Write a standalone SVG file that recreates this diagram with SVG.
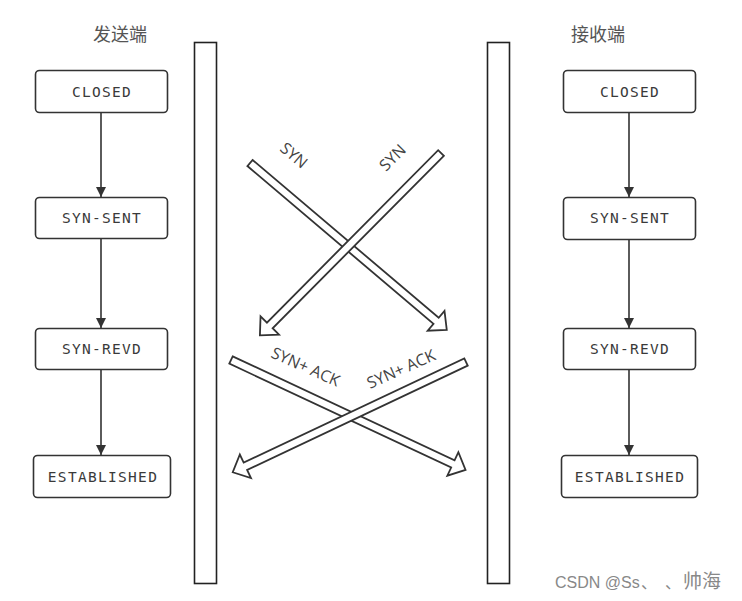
<svg xmlns="http://www.w3.org/2000/svg" width="742" height="601" viewBox="0 0 742 601">
<style>
.box{fill:#fff;stroke:#333;stroke-width:1.6}
.lbl{font-family:"DejaVu Sans Mono","Liberation Mono",monospace;font-size:14.5px;letter-spacing:1.3px;fill:#3a3a3a;text-anchor:middle}
.bar{fill:#fff;stroke:#222;stroke-width:1.6}
.title{font-family:"Noto Sans CJK SC",sans-serif;font-size:18px;fill:#555;text-anchor:middle}
.msg{font-family:"Open Sans","Liberation Sans",sans-serif;font-size:16px;fill:#444}
.edge{stroke:#333;stroke-width:1.6;fill:none}
.hollow{fill:#fff;stroke:#333;stroke-width:1.8;stroke-linejoin:miter}
</style>
<defs>
<marker id="ah" viewBox="0 0 10 10" refX="10" refY="5" markerWidth="10" markerHeight="10" markerUnits="userSpaceOnUse" orient="auto">
<path d="M0,0 L10,5 L0,10 z" fill="#333"/>
</marker>
</defs>
<rect width="742" height="601" fill="#fff"/>
<text class="title" x="120" y="41">发送端</text>
<text class="title" x="598" y="41">接收端</text>
<rect class="bar" x="194.5" y="42.5" width="22" height="541"/>
<rect class="bar" x="487.5" y="42.5" width="22" height="541"/>
<g id="connectors">
<line class="edge" x1="101" y1="112" x2="101" y2="197" marker-end="url(#ah)"/>
<line class="edge" x1="101" y1="238" x2="101" y2="328" marker-end="url(#ah)"/>
<line class="edge" x1="101" y1="369" x2="101" y2="455" marker-end="url(#ah)"/>
<line class="edge" x1="629" y1="112" x2="629" y2="197" marker-end="url(#ah)"/>
<line class="edge" x1="629" y1="239" x2="629" y2="328" marker-end="url(#ah)"/>
<line class="edge" x1="629" y1="369" x2="629" y2="455" marker-end="url(#ah)"/>
<g id="syn1" transform="translate(250,163) rotate(40.3)"><polygon class="hollow" points="0,-4 244,-4 244,-13 258,0 244,13 244,4 0,4"/></g>
<g id="syn2" transform="translate(441,153) rotate(134.8)"><polygon class="hollow" points="0,-4 243,-4 243,-13 257,0 243,13 243,4 0,4"/></g>
<g id="synack1" transform="translate(231,360) rotate(25.1)"><polygon class="hollow" points="0,-4 245,-4 245,-13 259,0 245,13 245,4 0,4"/></g>
<g id="synack2" transform="translate(466,362) rotate(154.7)"><polygon class="hollow" points="0,-4 244,-4 244,-13 258,0 244,13 244,4 0,4"/></g>
<text class="msg" transform="translate(279,150) rotate(40)">SYN</text>
<text class="msg" transform="translate(386,172) rotate(-45)">SYN</text>
<text class="msg" transform="translate(270,357) rotate(24)">SYN+ ACK</text>
<text class="msg" transform="translate(370,389) rotate(-24)">SYN+ ACK</text>
</g>
<g id="s-closed"><rect class="box" x="35.5" y="70.5" width="132" height="42" rx="4"/><text class="lbl" x="102" y="97">CLOSED</text></g>
<g id="s-synsent"><rect class="box" x="35.5" y="197.5" width="132" height="41" rx="4"/><text class="lbl" x="102" y="223">SYN-SENT</text></g>
<g id="s-synrevd"><rect class="box" x="35.5" y="328.5" width="132" height="41" rx="4"/><text class="lbl" x="102" y="354">SYN-REVD</text></g>
<g id="s-est"><rect class="box" x="33.5" y="455.5" width="137" height="42" rx="4"/><text class="lbl" x="103" y="482">ESTABLISHED</text></g>
<g id="r-closed"><rect class="box" x="563.5" y="70.5" width="132" height="42" rx="4"/><text class="lbl" x="630" y="97">CLOSED</text></g>
<g id="r-synsent"><rect class="box" x="563.5" y="197.5" width="132" height="42" rx="4"/><text class="lbl" x="630" y="223">SYN-SENT</text></g>
<g id="r-synrevd"><rect class="box" x="563.5" y="328.5" width="132" height="41" rx="4"/><text class="lbl" x="630" y="354">SYN-REVD</text></g>
<g id="r-est"><rect class="box" x="561.5" y="455.5" width="136" height="42" rx="4"/><text class="lbl" x="630" y="482">ESTABLISHED</text></g>
<text x="555" y="588" font-family="'Liberation Sans','Noto Sans CJK SC',sans-serif" font-size="16" fill="#888">CSDN @Ss<tspan x="641" font-family="'Noto Sans CJK SC',sans-serif">、</tspan><tspan x="665" font-family="'Noto Sans CJK SC',sans-serif">、</tspan><tspan x="683" font-size="19" font-family="'Noto Sans CJK SC',sans-serif">帅海</tspan></text>
</svg>
